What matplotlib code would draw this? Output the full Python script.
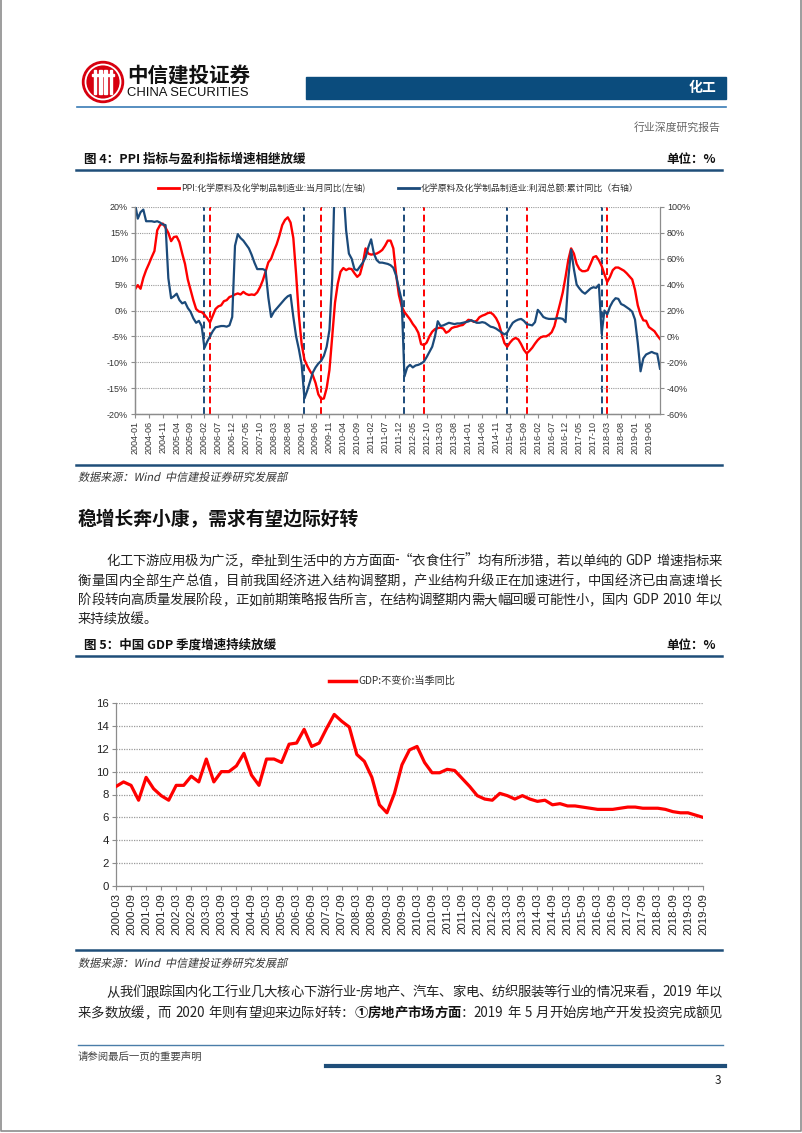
import matplotlib.pyplot as plt
from matplotlib.patches import Rectangle, Circle, PathPatch
from matplotlib.textpath import TextPath
from matplotlib.transforms import Affine2D
from matplotlib.font_manager import FontProperties

plt.rcParams['font.family'] = ['Noto Sans CJK SC', 'DejaVu Sans']
plt.rcParams['axes.unicode_minus'] = False

W, H = 802, 1133          # page size in pixels

#################### DATA ####################
# chart 1: monthly, 2004-01 .. 2019-10
month_labels = ['%d-%02d' % (2004 + i // 12, i % 12 + 1) for i in range(190)]

ppi = [4.1, 4.9, 4.2, 6.3, 7.8, 9.0, 10.3, 11.5, 15.5, 16.5,
       16.8, 16.0, 15.0, 13.4, 14.2, 14.3, 13.2, 11.0, 9.0, 6.0,
       4.0, 2.0, 0.3, -0.2, -0.3, -0.8, -1.5, -2.3, -1.0, 0.3,
       0.8, 1.0, 1.8, 2.0, 2.6, 2.8, 3.1, 3.3, 3.1, 3.6,
       3.2, 3.0, 3.1, 3.0, 3.5, 4.5, 5.8, 7.5, 9.3, 10.0,
       11.5, 12.8, 14.5, 16.5, 17.5, 18.0, 17.0, 14.0, 7.0, -1.0,
       -6.5, -9.5, -10.7, -11.7, -12.5, -14.0, -16.2, -17.1, -17.0, -15.0,
       -11.5, -5.0, 1.5, 5.2, 7.5, 8.2, 7.8, 8.1, 8.0, 7.2,
       6.5, 7.0, 9.0, 12.0, 11.0, 10.8, 10.9, 11.0, 11.3, 11.7,
       12.5, 13.5, 13.5, 12.0, 7.0, 3.0, 0.8, -0.3, -1.0, -1.7,
       -2.6, -3.3, -4.3, -6.5, -6.7, -6.2, -5.0, -4.1, -3.6, -3.4,
       -3.3, -3.5, -4.3, -4.0, -3.4, -3.2, -3.1, -2.9, -2.8, -2.3,
       -1.8, -1.9, -2.2, -2.0, -1.3, -1.0, -0.8, -0.5, -0.4, -0.8,
       -1.5, -2.6, -4.5, -6.3, -7.0, -6.2, -5.6, -5.3, -5.6, -6.5,
       -7.6, -8.3, -7.8, -7.2, -6.4, -5.7, -5.2, -5.0, -5.0, -4.7,
       -4.2, -3.0, -0.8, 1.3, 3.5, 6.5, 9.8, 12.0, 11.0, 9.0,
       8.0, 7.6, 7.6, 7.8, 9.0, 10.3, 10.5, 9.7, 8.6, 7.0,
       5.5, 6.5, 7.8, 8.3, 8.3, 8.0, 7.7, 7.2, 6.6, 6.0,
       4.0, 1.0, -0.8, -1.9, -2.0, -3.2, -3.6, -4.0, -4.8, -5.5]

profit = [103, 91, 96, 98, 89, 89, 89, 88.5, 89, 88,
          86.5, 86, 45, 29.5, 31, 33, 28, 25.5, 26.5, 22,
          19, 14, 10.5, 12, 8, -9, -4, 0, 4, 7,
          7.5, 8, 8, 7.5, 8.5, 15, 70, 79, 76, 74,
          71, 68, 63, 57, 52, 52, 52, 51, 30, 15,
          19, 21.5, 24, 26.5, 29, 31, 32, 15, 0, -10,
          -22, -48, -42, -35, -28, -24, -21, -19, -15, -8,
          5, 45, 130, 140, 135, 115, 82, 64, 60, 52,
          51, 54, 57, 61, 69, 75, 64, 59, 57, 57,
          56.5, 56, 55, 53, 47, 37, 28, -31, -24, -22,
          -24, -22.5, -22, -21, -19.5, -16, -12, -8, 0, 11.7,
          8, 8.5, 9.5, 10.5, 10, 9.5, 10, 10, 10.5, 11,
          11.5, 12.5, 11.5, 10.5, 10.5, 11, 10.5, 9, 7.5, 7,
          6, 4.5, 3, 1.5, 3, 7, 10.5, 12, 13, 13.5,
          12, 9.5, 9, 8.5, 11, 20.5, 18, 15, 14, 13.5,
          13.5, 13.5, 14, 14, 13.5, 11, 45, 67, 52, 40,
          37, 34.5, 33, 35, 37, 38, 37.5, 40, 2, 20,
          17, 23, 27, 29.5, 29, 25, 24, 22.5, 21, 19,
          13, -5, -27, -17, -14, -13, -12, -13, -13.5, -25]

ppi_marks = [27, 67, 104, 141, 170]        # red dashed lines
profit_marks = [25, 61, 97, 134, 168]      # blue dashed lines

# chart 2: quarterly, 2000-03 .. 2019-09
quarter_labels = ['%d-%02d' % (2000 + i // 4, 3 * (i % 4 + 1)) for i in range(79)]
gdp = [8.7, 9.1, 8.8, 7.5, 9.5, 8.5, 7.9, 7.5, 8.8, 8.8,
       9.6, 9.1, 11.1, 9.1, 10.0, 10.0, 10.5, 11.6, 9.7, 8.8,
       11.1, 11.1, 10.8, 12.4, 12.5, 13.7, 12.2, 12.5, 13.8, 15.0,
       14.4, 13.9, 11.5, 10.9, 9.5, 7.1, 6.4, 8.1, 10.6, 11.9,
       12.2, 10.8, 9.9, 9.9, 10.2, 10.1, 9.4, 8.7, 7.9, 7.6,
       7.5, 8.1, 7.9, 7.6, 7.9, 7.6, 7.4, 7.5, 7.1, 7.2,
       7.0, 7.0, 6.9, 6.8, 6.7, 6.7, 6.7, 6.8, 6.9, 6.9,
       6.8, 6.8, 6.8, 6.7, 6.5, 6.4, 6.4, 6.2, 6.0]

fig4_title = '图 4：PPI 指标与盈利指标增速相继放缓'
fig5_title = '图 5：中国 GDP 季度增速持续放缓'
unit_text = '单位：%'
legend_ppi = 'PPI:化学原料及化学制品制造业:当月同比(左轴)'
legend_profit = '化学原料及化学制品制造业:利润总额:累计同比（右轴）'
legend_gdp = 'GDP:不变价:当季同比'
source_text = '数据来源：Wind  中信建投证券研究发展部'
heading = '稳增长奔小康，需求有望边际好转'
para1 = ['化工下游应用极为广泛，牵扯到生活中的方方面面-“衣食住行”均有所涉猎，若以单纯的 GDP 增速指标来',
         '衡量国内全部生产总值，目前我国经济进入结构调整期，产业结构升级正在加速进行，中国经济已由高速增长',
         '阶段转向高质量发展阶段，正如前期策略报告所言，在结构调整期内需大幅回暖可能性小，国内 GDP 2010 年以',
         '来持续放缓。']
para2_line1 = '从我们跟踪国内化工行业几大核心下游行业-房地产、汽车、家电、纺织服装等行业的情况来看，2019 年以'
para2_line2 = ['来多数放缓，而 2020 年则有望迎来边际好转：', '①房地产市场方面', '：2019 年 5 月开始房地产开发投资完成额见']

RED = '#FF0000'
NAVY = '#1B4A7A'
RULE = '#1F4E79'
GRID = '#9A9A9A'
TICKFONT = 'Liberation Sans'
BODY = 9.6

#################### PAGE ####################
fig = plt.figure(figsize=(W / 100, H / 100), dpi=100)
page = fig.add_axes([0, 0, 1, 1])
page.set_xlim(0, W)
page.set_ylim(H, 0)
page.axis('off')
renderer = fig.canvas.get_renderer()


def box(x0, y0, x1, y1):
    return [x0 / W, 1 - y1 / H, (x1 - x0) / W, (y1 - y0) / H]


def split_tokens(segments):
    # CJK chars one by one, ascii words kept together, remember spaces
    toks = []
    space = False
    for text, weight in segments:
        word, word_sp = '', False
        for ch in text:
            if ch == ' ':
                if word:
                    toks.append([word, weight, word_sp])
                    word = ''
                space = True
            elif ch.isascii():
                if not word:
                    word_sp, space = space, False
                word += ch
            else:
                if word:
                    toks.append([word, weight, word_sp])
                    word = ''
                toks.append([ch, weight, space])
                space = False
        if word:
            toks.append([word, weight, word_sp])
    return toks


def justified(x0, x1, y, segments, size=BODY, color='#222'):
    toks = split_tokens(segments)
    arts, widths = [], []
    for s, w, sp in toks:
        t = page.text(0, y, s, fontsize=size, fontweight=w, va='center',
                      color='#111' if w == 'bold' else color)
        arts.append(t)
        widths.append(t.get_window_extent(renderer).width)
    space_w = size * 100 / 72 * 0.3
    nat = sum(widths) + space_w * sum(1 for tk in toks if tk[2])
    gap = (x1 - x0 - nat) / (len(toks) - 1)
    x = x0
    for i, (t, wd, tk) in enumerate(zip(arts, widths, toks)):
        if i > 0:
            x += gap + (space_w if tk[2] else 0)
        t.set_x(x)
        x += wd


def slanted(x, y_base, s, size, color='#333'):
    # fake italic: skewed text outline
    tp = TextPath((0, 0), s, size=size * 100 / 72,
                  prop=FontProperties(family=['Noto Sans CJK SC', 'DejaVu Sans']))
    tr = Affine2D().skew_deg(12, 0).scale(1, -1).translate(x, y_base) + page.transData
    page.add_patch(PathPatch(tp, transform=tr, fc=color, lw=0))


# page frame
page.plot([0.5, 0.5, 801, 801], [0, 1131, 1131, 0], color='#8C8C8C', lw=1.2)

# logo
page.add_patch(Circle((103, 82), 20.5, color='#D7000F'))
page.add_patch(Circle((103, 82), 17.5, fill=False, ec='white', lw=1.3))
for dx in (-8, -2.5, 2.5, 8):
    page.add_patch(Rectangle((103 + dx - 1.1, 70), 2.2, 24, color='white'))
page.add_patch(Rectangle((92, 74), 22, 2, color='white'))
page.text(127, 75, '中信建投证券', fontsize=14.8, fontweight='bold', va='center', color='#111')
page.text(127, 93.5, 'CHINA SECURITIES', fontsize=9.4, family=TICKFONT, va='center', color='#111')

# header bar
page.add_patch(Rectangle((306, 77), 420, 22, color='#0B4C7D'))
page.text(716, 88, '化工', fontsize=10, fontweight='bold', color='white', ha='right', va='center')
page.plot([77, 726], [107, 107], color='#3A7BB5', lw=1.2)
page.text(721, 127, '行业深度研究报告', fontsize=7.8, color='#666', ha='right', va='center')

# figure 4 title block
page.text(84, 159, fig4_title, fontsize=9, fontweight='bold', va='center', color='#111')
page.text(716, 159, unit_text, fontsize=9, fontweight='bold', va='center', ha='right', color='#111')
page.plot([76, 722], [170, 170], color=RULE, lw=1.8)
page.plot([158, 179], [188, 188], color=RED, lw=2)
page.text(181, 188, legend_ppi, fontsize=6.4, va='center', color='#333')
page.plot([398, 419], [188, 188], color=NAVY, lw=2)
page.text(421, 188, legend_profit, fontsize=6.4, va='center', color='#333')

#################### CHART 1 ####################
ax1 = fig.add_axes(box(135, 207, 660, 414))
x1 = list(range(len(ppi)))
for m in profit_marks:
    ax1.axvline(m, color=NAVY, ls=(0, (3.5, 2)), lw=1.4, zorder=1)
for m in ppi_marks:
    ax1.axvline(m, color=RED, ls=(0, (3.5, 2)), lw=1.4, zorder=1)
ax1.plot(x1, ppi, color=RED, lw=1.7, zorder=3)
ax1.set_xlim(0, len(ppi) - 1)
ax1.set_ylim(-20, 20)
ax1.set_yticks(range(-20, 21, 5))
ax1.set_yticklabels(['%d%%' % v for v in range(-20, 21, 5)])
ax1.grid(axis='y', ls=(0, (1, 1)), color=GRID, lw=0.8)
ax1.set_xticks(x1[::5])
ax1.set_xticklabels(month_labels[::5], rotation=90)

ax2 = ax1.twinx()
ax2.plot(x1, profit, color=NAVY, lw=1.6)
ax2.set_ylim(-60, 100)
ax2.set_yticks(range(-60, 101, 20))
ax2.set_yticklabels(['%d%%' % v for v in range(-60, 101, 20)])

for a in (ax1, ax2):
    a.patch.set_visible(False)
    a.spines['top'].set_visible(False)
    for s in ('left', 'right', 'bottom'):
        a.spines[s].set_color('#8C8C8C')
        a.spines[s].set_linewidth(0.9)
    a.tick_params(labelsize=6.5, colors='#8C8C8C', labelcolor='#333', length=3, width=0.8, pad=2)
    for lab in a.get_xticklabels() + a.get_yticklabels():
        lab.set_family(TICKFONT)
ax1.spines['right'].set_visible(False)

page.plot([76, 722], [465, 465], color=RULE, lw=1.8)
slanted(78, 481, source_text, 8)

#################### TEXT ####################
page.text(78, 520, heading, fontsize=13.5, fontweight='bold', va='center', color='#111')
for i, line in enumerate(para1[:-1]):
    justified(106 if i == 0 else 78, 722, 561 + 19.6 * i, [(line, 'normal')])
page.text(78, 561 + 19.6 * 3, para1[-1], fontsize=BODY, va='center', color='#222')

page.text(84, 645, fig5_title, fontsize=9, fontweight='bold', va='center', color='#111')
page.text(716, 645, unit_text, fontsize=9, fontweight='bold', va='center', ha='right', color='#111')
page.plot([76, 722], [656, 656], color=RULE, lw=1.8)
page.plot([329, 356], [681, 681], color=RED, lw=2.5)
page.text(358, 681, legend_gdp, fontsize=7.3, va='center', color='#333')

#################### CHART 2 ####################
ax3 = fig.add_axes(box(116, 703, 703, 886))
x3 = list(range(len(gdp)))
ax3.plot(x3, gdp, color=RED, lw=2.3, zorder=3)
ax3.set_xlim(0, len(gdp) - 1)
ax3.set_ylim(0, 16)
ax3.set_yticks(range(0, 17, 2))
ax3.grid(axis='y', ls=(0, (1, 1)), color=GRID, lw=0.9)
ax3.set_xticks(x3[::2])
ax3.set_xticklabels(quarter_labels[::2], rotation=90)
ax3.spines['top'].set_visible(False)
ax3.spines['right'].set_visible(False)
for s in ('left', 'bottom'):
    ax3.spines[s].set_color('#8C8C8C')
    ax3.spines[s].set_linewidth(0.9)
ax3.tick_params(labelsize=8.2, colors='#8C8C8C', labelcolor='#222', length=3, width=0.8, pad=2)
for lab in ax3.get_xticklabels() + ax3.get_yticklabels():
    lab.set_family(TICKFONT)

page.plot([76, 722], [950, 950], color=RULE, lw=1.8)
slanted(78, 967, source_text, 8)

justified(106, 722, 992, [(para2_line1, 'normal')])
justified(78, 722, 1013, [(para2_line2[0], 'normal'), (para2_line2[1], 'bold'),
                          (para2_line2[2], 'normal')])

# footer
page.plot([78, 723], [1045, 1045], color='#4A7DA8', lw=1)
page.text(78, 1057, '请参阅最后一页的重要声明', fontsize=7.5, va='center', color='#444')
page.plot([326, 725], [1066, 1066], color=RULE, lw=3)
page.text(721, 1080, '3', fontsize=8.5, va='center', ha='right', color='#222')

fig.savefig('out.png', dpi=100)
